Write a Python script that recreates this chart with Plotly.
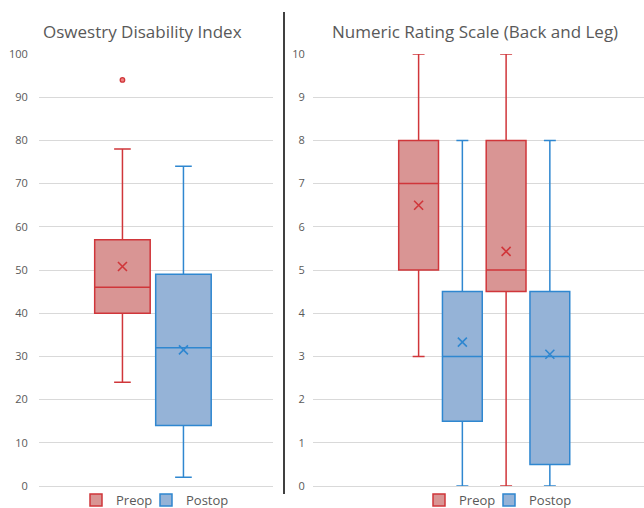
import plotly.graph_objects as go

# ---- data ----
odi_groups = ["ODI"]
odi_preop = dict(lower=[24], q1=[40], median=[46], q3=[57], upper=[78], mean=[50.8])
odi_postop = dict(lower=[2], q1=[14], median=[32], q3=[49], upper=[74], mean=[31.5])
odi_outliers_preop = [94]

nrs_groups = ["Back", "Leg"]
nrs_preop = dict(lower=[3, 0], q1=[5, 4.5], median=[7, 5], q3=[8, 8], upper=[10, 10], mean=[6.5, 5.43])
nrs_postop = dict(lower=[0, 0], q1=[1.5, 0.5], median=[3, 3], q3=[4.5, 4.5], upper=[8, 8], mean=[3.33, 3.05])

odi_ticks = list(range(0, 101, 10))
nrs_ticks = list(range(0, 11, 1))

# ---- style ----
RED_LINE = "#D0363A"
RED_FILL = "#D99594"
BLUE_LINE = "#2F87D0"
BLUE_FILL = "#95B3D7"
TXT = "#595959"
GRID = "#D9D9D9"
FONT = "Open Sans"
OFFSET = 0.25
BW = 0.455
W, H = 644, 508

def px_x(p):
    return p / W

def px_y(p):
    return (H - p) / H

fig = go.Figure()

def add_boxes(groups, stats, name, line, fill, xa, ya, legend, sign):
    xs = [i + sign * OFFSET for i in range(len(groups))]
    fig.add_trace(go.Box(
        x=xs, q1=stats["q1"], median=stats["median"], q3=stats["q3"],
        lowerfence=stats["lower"], upperfence=stats["upper"],
        name=name, width=BW, whiskerwidth=0.3,
        line=dict(color=line, width=1.5), fillcolor=fill,
        boxpoints=False, xaxis=xa, yaxis=ya, legend=legend,
        showlegend=True, legendgroup=legend, hoverinfo="skip",
    ))
    fig.add_trace(go.Scatter(
        x=xs, y=stats["mean"], mode="markers",
        marker=dict(symbol="x-thin", size=9, line=dict(color=line, width=1.6)),
        xaxis=xa, yaxis=ya, showlegend=False, hoverinfo="skip",
    ))
    return xs

xs_pre = add_boxes(odi_groups, odi_preop, "Preop", RED_LINE, RED_FILL, "x", "y", "legend", -1)
add_boxes(odi_groups, odi_postop, "Postop", BLUE_LINE, BLUE_FILL, "x", "y", "legend2", 1)
fig.add_trace(go.Scatter(
    x=[xs_pre[0]] * len(odi_outliers_preop), y=odi_outliers_preop, mode="markers",
    marker=dict(symbol="circle", size=4.5, color="#F08080", line=dict(color=RED_LINE, width=1.3)),
    xaxis="x", yaxis="y", showlegend=False, hoverinfo="skip",
))
add_boxes(nrs_groups, nrs_preop, "Preop", RED_LINE, RED_FILL, "x2", "y2", "legend3", -1)
add_boxes(nrs_groups, nrs_postop, "Postop", BLUE_LINE, BLUE_FILL, "x2", "y2", "legend4", 1)

ydom = [px_y(486), px_y(54)]
tickfont = dict(family=FONT, size=11, color=TXT)
legfont = dict(family=FONT, size=13, color=TXT)

def leg(xpx):
    return dict(orientation="h", x=px_x(xpx), xanchor="left", y=px_y(500), yanchor="middle",
                font=legfont, bgcolor="rgba(0,0,0,0)", itemwidth=30, tracegroupgap=0)

fig.update_layout(
    width=W, height=H, margin=dict(l=0, r=0, t=0, b=0, autoexpand=False),
    paper_bgcolor="white", plot_bgcolor="white", boxmode="overlay",
    font=dict(family=FONT, color=TXT),
    xaxis=dict(domain=[px_x(39), px_x(273)], range=[-0.934, 0.984], showgrid=False,
               showticklabels=False, zeroline=False, showline=True, linecolor=GRID, linewidth=1,
               automargin=False),
    yaxis=dict(domain=ydom, range=[0, 100], tickvals=odi_ticks, showgrid=True, gridcolor=GRID,
               gridwidth=1, zeroline=False, tickfont=tickfont, ticks="outside", ticklen=8,
               tickcolor="rgba(0,0,0,0)", automargin=False),
    xaxis2=dict(domain=[px_x(313), 1.0], range=[-1.457, 2.326], showgrid=False,
                showticklabels=False, zeroline=False, showline=True, linecolor=GRID, linewidth=1,
                anchor="y2", automargin=False),
    yaxis2=dict(domain=ydom, range=[0, 10], tickvals=nrs_ticks, showgrid=True, gridcolor=GRID,
                gridwidth=1, zeroline=False, tickfont=tickfont, anchor="x2", ticks="outside",
                ticklen=5, tickcolor="rgba(0,0,0,0)", automargin=False),
    legend=leg(76), legend2=leg(146), legend3=leg(419), legend4=leg(489),
    annotations=[
        dict(text="Oswestry Disability Index", x=px_x(142), y=px_y(31), xref="paper", yref="paper",
             showarrow=False, xanchor="center", yanchor="middle",
             font=dict(family=FONT, size=17, color=TXT)),
        dict(text="Numeric Rating Scale (Back and Leg)", x=px_x(475), y=px_y(31), xref="paper",
             yref="paper", showarrow=False, xanchor="center", yanchor="middle",
             font=dict(family=FONT, size=17, color=TXT)),
    ],
    shapes=[
        dict(type="line", xref="paper", yref="paper", x0=px_x(284), x1=px_x(284),
             y0=px_y(12), y1=px_y(494), line=dict(color="#404040", width=2)),
    ],
)

fig.write_html("out.html", config={"displayModeBar": False},
               post_script="document.body.style.margin='0';document.body.style.overflow='hidden';")
